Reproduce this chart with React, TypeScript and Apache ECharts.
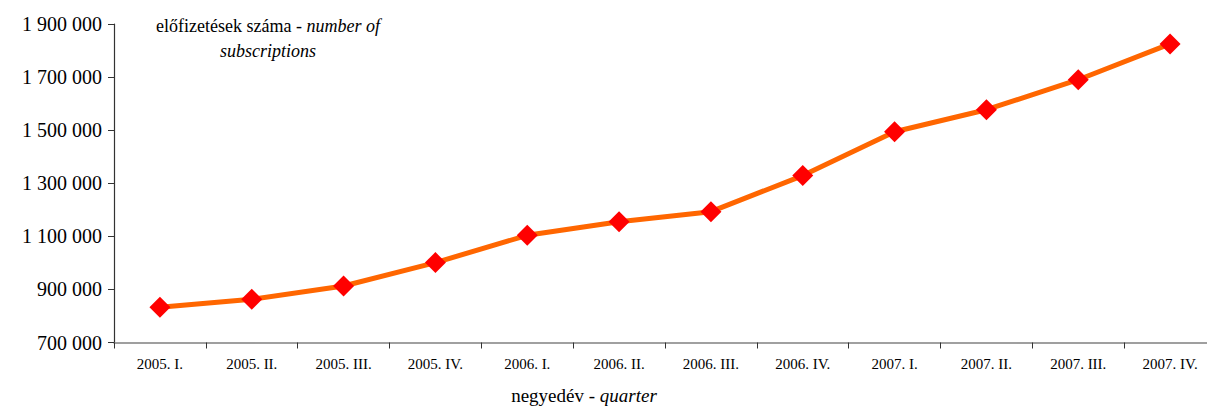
import React, { useEffect, useRef } from "react";
import * as echarts from "echarts";

const categories = [
  "2005. I.", "2005. II.", "2005. III.", "2005. IV.",
  "2006. I.", "2006. II.", "2006. III.", "2006. IV.",
  "2007. I.", "2007. II.", "2007. III.", "2007. IV.",
];
const subscriptions = [
  833000, 863000, 913000, 1001000,
  1104000, 1155000, 1193000, 1329000,
  1494000, 1577000, 1690000, 1825000,
];
const yMin = 700000;
const yMax = 1900000;
const yStep = 200000;

const fmt = (v: number) => String(v).replace(/\B(?=(\d{3})+(?!\d))/g, " ");

export default function App() {
  const ref = useRef<HTMLDivElement>(null);
  useEffect(() => {
    if (!ref.current) return;
    const chart = echarts.init(ref.current, null, { renderer: "svg" });
    const font = "Liberation Serif";
    chart.setOption({
      animation: false,
      backgroundColor: "#ffffff",
      textStyle: { fontFamily: font },
      grid: { left: 114, width: 1102, top: 24, height: 318.5, containLabel: false },
      xAxis: {
        type: "category",
        data: categories,
        boundaryGap: true,
        axisLine: { lineStyle: { color: "#808080", width: 1.5 } },
        axisTick: { show: true, length: 6, lineStyle: { color: "#333" } },
        axisLabel: { color: "#000", fontSize: 15, fontFamily: font, margin: 14 },
        splitLine: { show: false },
      },
      yAxis: {
        type: "value",
        min: yMin,
        max: yMax,
        interval: yStep,
        axisLine: { show: true, lineStyle: { color: "#333", width: 1.2 } },
        axisTick: { show: true, length: 6, lineStyle: { color: "#333" } },
        axisLabel: {
          color: "#000",
          fontSize: 20,
          fontFamily: font,
          margin: 12,
          formatter: (v: number) => fmt(v),
        },
        splitLine: { show: false },
      },
      graphic: [
        {
          type: "text",
          x: 584,
          y: 395,
          style: {
            text: "{n|negyedév - }{i|quarter}",
            align: "center",
            verticalAlign: "middle",
            rich: {
              n: { fontSize: 19, fontFamily: font, fill: "#000", lineHeight: 20 },
              i: { fontSize: 19, fontFamily: font, fontStyle: "italic", fill: "#000", lineHeight: 20 },
            },
          },
        },
        {
          type: "text",
          x: 268,
          y: 13,
          style: {
            text: "{n|előfizetések száma - }{i|number of}\n{i|subscriptions}",
            align: "center",
            verticalAlign: "top",
            lineHeight: 25,
            rich: {
              n: { fontSize: 18, fontFamily: font, fill: "#000", lineHeight: 25 },
              i: { fontSize: 18, fontFamily: font, fontStyle: "italic", fill: "#000", lineHeight: 25 },
            },
          },
        },
      ],
      series: [
        {
          type: "line",
          data: subscriptions,
          symbol: "diamond",
          symbolSize: 21,
          showAllSymbol: true,
          lineStyle: { color: "#FF6600", width: 5 },
          itemStyle: { color: "#FF0000", borderWidth: 0 },
          z: 3,
        },
      ],
    });
    return () => chart.dispose();
  }, []);
  return (
    <div
      ref={ref}
      style={{ position: "fixed", left: 0, top: 0, width: 1222, height: 408 }}
    />
  );
}
